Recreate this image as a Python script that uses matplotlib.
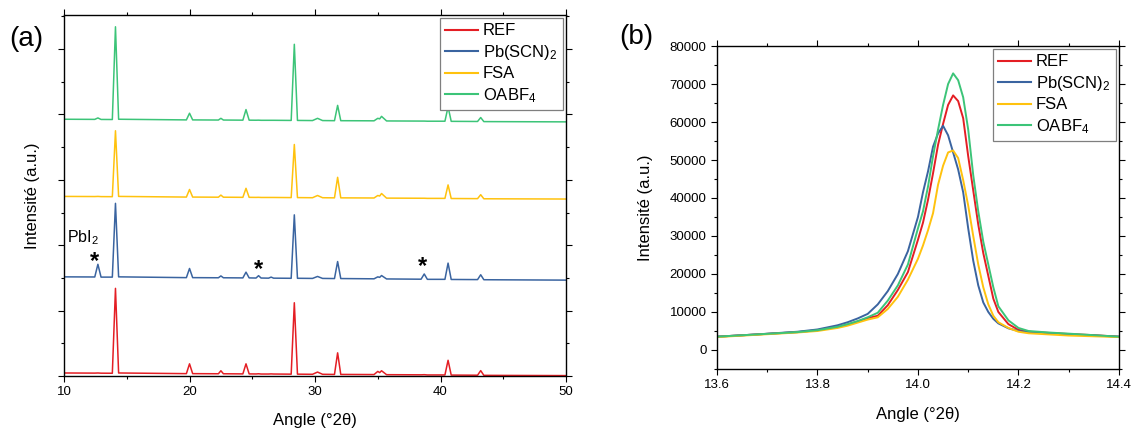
import matplotlib
matplotlib.use('Agg')
import matplotlib.pyplot as plt
from matplotlib.ticker import MultipleLocator

plt.rcParams['font.family'] = ['Liberation Sans', 'DejaVu Sans']
plt.rcParams['mathtext.fontset'] = 'custom'
plt.rcParams['mathtext.rm'] = 'Liberation Sans'
plt.rcParams['mathtext.default'] = 'regular'

# ---- data ----
labels = ['REF', 'Pb(SCN)$_2$', 'FSA', 'OABF$_4$']
colors = ['#e41e24', '#3a64a0', '#ffc20e', '#3cc478']

# (a) full patterns, intensity in kcounts (vertices)
angle_a = [10.0, 12.45, 12.7, 12.95, 13.85, 14.1, 14.35, 19.75, 20.0, 20.25,
           22.3, 22.5, 22.7, 24.25, 24.5, 24.75, 25.3, 25.5, 25.7, 26.3,
           26.5, 26.7, 28.1, 28.35, 28.6, 29.8, 30.2, 30.6, 31.55, 31.8,
           32.05, 34.7, 35.0, 35.15, 35.3, 35.7, 38.45, 38.7, 38.95, 40.35,
           40.6, 40.85, 42.95, 43.2, 43.45, 50.0]
ref_a = [2.3, 2.2, 2.3, 2.15, 2.1, 67, 2.3, 1.8, 9.3, 1.8,
         1.7, 4.0, 1.7, 1.6, 9.3, 1.6, 1.55, 1.7, 1.5, 1.5,
         1.6, 1.5, 1.4, 56, 1.4, 1.3, 3.0, 1.3, 1.2, 17.7,
         1.2, 1.1, 3.5, 2.6, 4.0, 1.0, 0.9, 1.0, 0.8, 0.8,
         12, 0.7, 0.6, 4.1, 0.5, 0.3]
pbscn_a = [2.8, 2.7, 12.4, 2.6, 2.6, 59, 2.8, 2.2, 9.2, 2.2,
           2.1, 3.5, 2.1, 2.0, 6.4, 2.0, 1.9, 3.7, 1.9, 1.8,
           2.6, 1.8, 1.7, 50.2, 1.7, 1.6, 3.1, 1.6, 1.5, 14.5,
           1.5, 1.3, 2.8, 2.4, 3.8, 1.2, 1.0, 5.0, 0.9, 0.9,
           13.3, 0.8, 0.7, 4.4, 0.6, 0.3]
fsa_a = [2.3, 2.2, 2.3, 2.15, 2.1, 52.5, 2.3, 1.8, 7.6, 1.8,
         1.7, 3.3, 1.7, 1.6, 8.5, 1.6, 1.55, 1.6, 1.5, 1.5,
         1.5, 1.5, 1.4, 42, 1.4, 1.3, 3.0, 1.3, 1.2, 16.9,
         1.2, 1.1, 3.0, 2.6, 4.5, 1.0, 0.9, 0.9, 0.8, 0.8,
         11.1, 0.7, 0.6, 3.6, 0.5, 0.3]
oabf_a = [2.3, 2.2, 3.3, 2.15, 2.1, 73, 2.3, 1.8, 6.9, 1.8,
          1.7, 3.0, 1.7, 1.6, 9.7, 1.6, 1.55, 1.6, 1.5, 1.5,
          1.5, 1.5, 1.4, 59.6, 1.4, 1.3, 3.0, 1.3, 1.2, 12.9,
          1.2, 1.1, 3.0, 2.6, 4.5, 1.0, 0.9, 0.9, 0.8, 0.8,
          11.8, 0.7, 0.6, 3.6, 0.5, 0.3]
offsets_a = [0, 73, 135, 194]   # vertical stacking offsets (kcounts)

# (b) zoom on the (110) peak
angle_b = [13.60, 13.64, 13.68, 13.72, 13.76, 13.80, 13.84, 13.86, 13.88, 13.90,
           13.92, 13.94, 13.96, 13.98, 14.00, 14.01, 14.02, 14.03, 14.04, 14.05,
           14.06, 14.07, 14.08, 14.09, 14.10, 14.11, 14.12, 14.13, 14.14, 14.15,
           14.16, 14.18, 14.20, 14.22, 14.26, 14.30, 14.35, 14.40]
ref_b = [3500, 3800, 4100, 4400, 4700, 5200, 6000, 6700, 7500, 8400,
         9000, 11800, 15800, 20500, 29000, 33500, 39500, 46500, 54000, 59500,
         64500, 67000, 65500, 61000, 51000, 42000, 33000, 25500, 19500, 13500,
         10000, 6800, 5300, 4800, 4500, 4200, 3900, 3500]
pbscn_b = [3500, 3800, 4100, 4450, 4800, 5400, 6500, 7300, 8300, 9500,
           12000, 15500, 20000, 26000, 35000, 41500, 47000, 53500, 57000, 59000,
           56500, 52000, 47500, 41500, 32000, 23500, 17000, 12500, 10000, 8200,
           7000, 5700, 5000, 4700, 4400, 4100, 3800, 3500]
fsa_b = [3400, 3700, 4000, 4300, 4600, 5000, 5800, 6400, 7200, 8000,
         8600, 10800, 14000, 18500, 24000, 27500, 31500, 36000, 43500, 48500,
         52000, 52500, 50500, 44700, 38000, 30000, 22500, 16500, 12000, 9000,
         7300, 5800, 4800, 4400, 4100, 3800, 3600, 3400]
oabf_b = [3500, 3800, 4100, 4400, 4700, 5200, 6100, 6800, 7600, 8600,
          9800, 13000, 17000, 22500, 32000, 36500, 43000, 51000, 58000, 64500,
          70000, 72800, 71000, 66500, 58000, 46000, 36500, 28500, 22500, 16500,
          11500, 7800, 5800, 5000, 4600, 4300, 3900, 3500]

series_a = [ref_a, pbscn_a, fsa_a, oabf_a]
series_b = [ref_b, pbscn_b, fsa_b, oabf_b]


def style_axes(ax):
    for sp in ax.spines.values():
        sp.set_linewidth(1.0)
    ax.tick_params(which='both', direction='out', top=True, right=True,
                   width=0.8, labelsize=9.5, pad=3.5)
    ax.tick_params(which='major', length=4)
    ax.tick_params(which='minor', length=2.5)


def add_legend(ax):
    leg = ax.legend(loc='upper right', fontsize=12, frameon=True, fancybox=False,
                    edgecolor='#7f7f7f', framealpha=1, handlelength=2.0,
                    handletextpad=0.3, borderpad=0.3, labelspacing=0.27,
                    borderaxespad=0.2)
    leg.get_frame().set_linewidth(0.9)
    for ln in leg.get_lines():
        ln.set_linewidth(1.5)
    return leg


fig = plt.figure(figsize=(11.33, 4.30), dpi=100)

# ---- panel (a) ----
ax1 = fig.add_axes([0.0565, 0.1256, 0.4431, 0.8395])
for y, off, c, lab in zip(series_a, offsets_a, colors, labels):
    ax1.plot(angle_a, [v + off for v in y], color=c, lw=1.1, label=lab)
ax1.set_xlim(10, 50)
ax1.set_ylim(0, 276)
ax1.xaxis.set_major_locator(MultipleLocator(10))
ax1.xaxis.set_minor_locator(MultipleLocator(5))
ax1.yaxis.set_major_locator(MultipleLocator(50))
ax1.yaxis.set_minor_locator(MultipleLocator(25))
style_axes(ax1)
ax1.tick_params(axis='y', labelleft=False)
ax1.set_xlabel('Angle (°2θ)', fontsize=12, labelpad=10.5)
ax1.set_ylabel('Intensité (a.u.)', fontsize=12, labelpad=11)
add_legend(ax1)

ax1.text(10.2, 106, 'PbI$_2$', fontsize=11.5, ha='left', va='center')
for xs, ys in [(12.45, 87.5), (25.5, 81.5), (38.55, 83.5)]:
    ax1.text(xs, ys, '*', fontsize=17, fontweight='bold', ha='center', va='center')

# ---- panel (b) ----
ax2 = fig.add_axes([0.6328, 0.1419, 0.3548, 0.7511])
for y, c, lab in zip(series_b, colors, labels):
    ax2.plot(angle_b, y, color=c, lw=1.4, label=lab)
ax2.set_xlim(13.6, 14.4)
ax2.set_ylim(-5000, 80000)
ax2.xaxis.set_major_locator(MultipleLocator(0.2))
ax2.xaxis.set_minor_locator(MultipleLocator(0.1))
ax2.yaxis.set_major_locator(MultipleLocator(10000))
ax2.yaxis.set_minor_locator(MultipleLocator(5000))
ax2.xaxis.set_major_formatter(plt.FormatStrFormatter('%.1f'))
style_axes(ax2)
ax2.set_xlabel('Angle (°2θ)', fontsize=12, labelpad=11)
ax2.set_ylabel('Intensité (a.u.)', fontsize=12, labelpad=12)
add_legend(ax2)

fig.text(26 / 1133, 1 - 39 / 430, '(a)', fontsize=20, ha='center', va='center')
fig.text(636 / 1133, 1 - 37 / 430, '(b)', fontsize=20, ha='center', va='center')

fig.savefig('out.png', dpi=100)
